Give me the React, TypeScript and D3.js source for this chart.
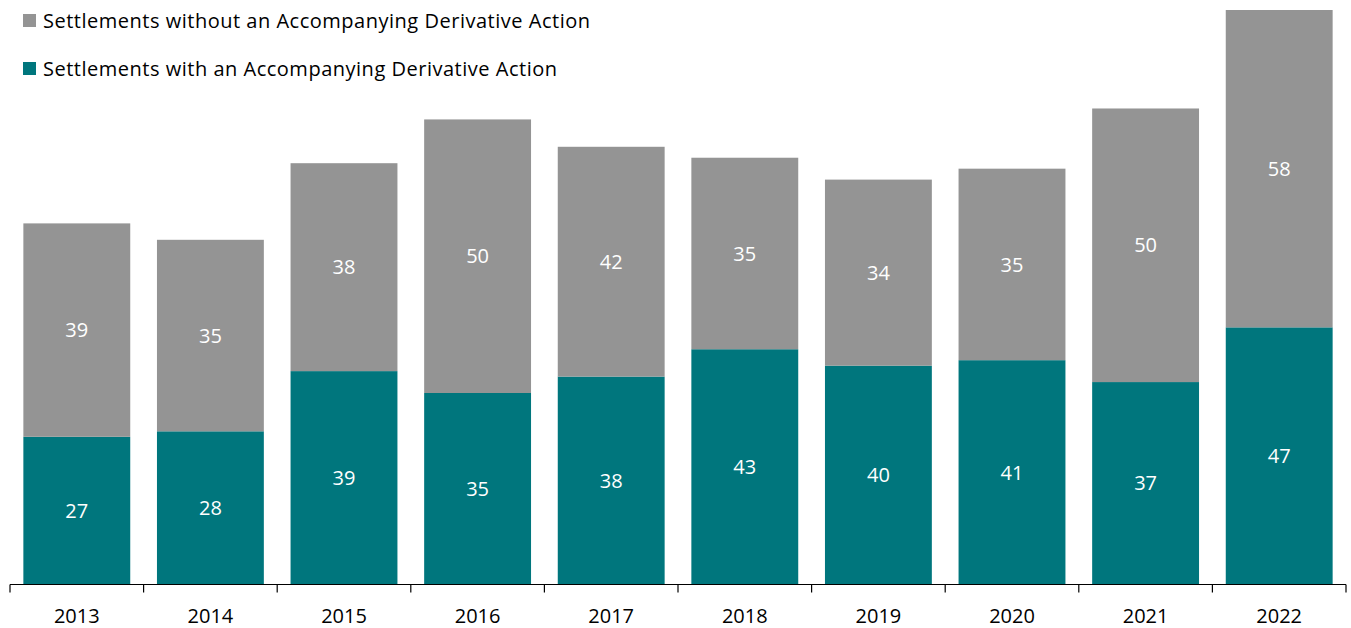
import React from "react";
import * as d3 from "d3";

const years = ["2013", "2014", "2015", "2016", "2017", "2018", "2019", "2020", "2021", "2022"];
const withDerivative = [27, 28, 39, 35, 38, 43, 40, 41, 37, 47];
const withoutDerivative = [39, 35, 38, 50, 42, 35, 34, 35, 50, 58];
const seriesNames = [
  "Settlements without an Accompanying Derivative Action",
  "Settlements with an Accompanying Derivative Action",
];

const W = 1351;
const H = 628;
const GRAY = "#949494";
const TEAL = "#00767D";
const FONT = "Open Sans, 'Noto Sans', sans-serif";

export default function App() {
  const x = d3.scaleBand<string>().domain(years).range([10, 1346]).paddingInner(0.2).paddingOuter(0.1);
  const y = d3.scaleLinear().domain([0, 105]).range([584.5, 10]);
  const base = y(0);

  const rows = years.map((yr, i) => ({
    yr,
    a: withDerivative[i],
    b: withoutDerivative[i],
  }));

  const step = x.step();
  const tickXs = years.map((_, i) => 10 + i * step).concat([1346]);

  return (
    <svg
      width={W}
      height={H}
      style={{ position: "absolute", left: 0, top: 0, display: "block", background: "#fff" }}
      fontFamily={FONT}
    >
      {rows.map((r) => {
        const x0 = x(r.yr)!;
        const bw = x.bandwidth();
        const yA = y(r.a);
        const yB = y(r.a + r.b);
        return (
          <g key={r.yr}>
            <rect x={x0} y={yA} width={bw} height={base - yA} fill={TEAL} />
            <rect x={x0} y={yB} width={bw} height={yA - yB} fill={GRAY} />
            <text x={x0 + bw / 2} y={(yA + base) / 2} dy="0.36em" textAnchor="middle" fill="#fff" fontSize={20}>
              {r.a}
            </text>
            <text x={x0 + bw / 2} y={(yA + yB) / 2} dy="0.36em" textAnchor="middle" fill="#fff" fontSize={20}>
              {r.b}
            </text>
          </g>
        );
      })}
      <line x1={10} x2={1346} y1={base} y2={base} stroke="#000" strokeWidth={1.2} />
      {tickXs.map((tx, i) => (
        <line key={i} x1={tx} x2={tx} y1={base} y2={base + 8} stroke="#000" strokeWidth={1.2} />
      ))}
      {years.map((yr) => (
        <text key={yr} x={x(yr)! + x.bandwidth() / 2} y={622.5} textAnchor="middle" fill="#000" fontSize={20}>
          {yr}
        </text>
      ))}
      <g>
        <rect x={23} y={14} width={13} height={13} fill={GRAY} />
        <text x={43} y={28} fontSize={20} fill="#000" textLength={547} lengthAdjust="spacing">{seriesNames[0]}</text>
        <rect x={23} y={62} width={13} height={13} fill={TEAL} />
        <text x={43} y={76} fontSize={20} fill="#000" textLength={514} lengthAdjust="spacing">{seriesNames[1]}</text>
      </g>
    </svg>
  );
}
